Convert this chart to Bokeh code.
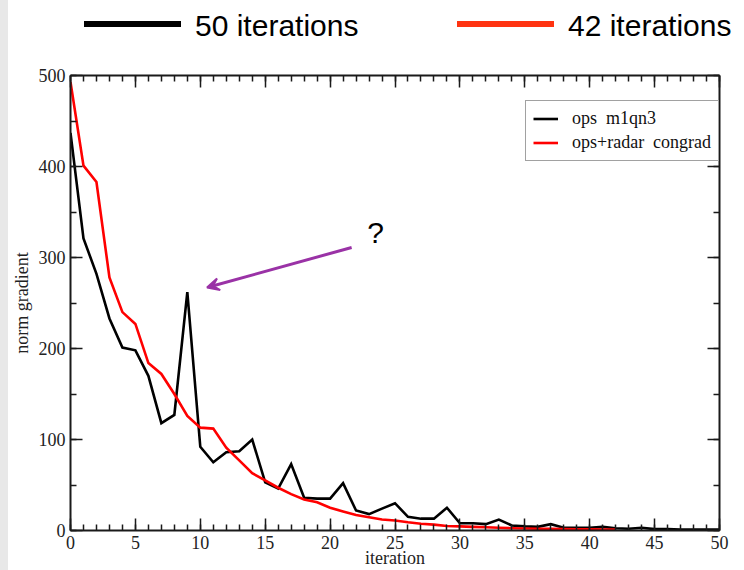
from bokeh.plotting import figure
from bokeh.models import (Range1d, LinearAxis, SingleIntervalTicker, Legend, LegendItem,
                          Arrow, VeeHead, Label, Spacer, Div)
from bokeh.layouts import row, column
from bokeh.embed import file_html
from bokeh.resources import INLINE

# ---------------- data ----------------
iter_m1qn3 = list(range(0, 51))
norm_m1qn3 = [437, 321, 282, 233, 201, 198, 170, 118, 127, 262,
              92, 75, 86, 87, 100, 53, 46, 73, 36, 35,
              35, 52, 22, 18, 24, 30, 15, 13, 13, 25,
              8, 8, 7, 12, 5.5, 4.5, 4, 7, 3, 3,
              3, 4, 2.5, 2, 3, 1.5, 1.5, 1, 1, 1, 1]

iter_congrad = list(range(0, 43))
norm_congrad = [493, 401, 383, 278, 240, 227, 184, 172, 150, 126,
                113, 112, 91, 77, 63, 55, 47, 40, 34, 31,
                25, 21, 17, 14.5, 12, 11, 9, 7.5, 6.5, 5,
                4.5, 4, 3.5, 3, 2.5, 2.2, 2, 1.8, 1.6, 1.4,
                1.2, 1.1, 1]

series_labels = ["ops  m1qn3", "ops+radar  congrad"]
top_labels = ["50 iterations", "42 iterations"]
top_colors = ["#000000", "#ff3311"]
x_label = "iteration"
y_label = "norm gradient"

SERIF = "Liberation Serif"
SANS = "Liberation Sans"
AX = "#1a1a1a"
PURPLE = "#9a32a6"

HEAD_H = 48

# ---------------- header: the big legend ----------------
def head_item(left, color, text):
    return (f'<div style="position:absolute;left:{left}px;top:21px;width:97px;height:6px;'
            f'background:{color};"></div>'
            f'<div style="position:absolute;left:{left + 111}px;top:11px;line-height:30px;'
            f'white-space:nowrap;color:#000;">{text}</div>')

head_html = (f'<div style="position:relative;width:736px;height:{HEAD_H}px;margin:0;padding:0;'
             f'font-family:\'{SANS}\';font-size:30px;background:#ffffff;">'
             + head_item(76, top_colors[0], top_labels[0])
             + head_item(449, top_colors[1], top_labels[1])
             + '</div>')
head = Div(text=head_html, width=736, height=HEAD_H, margin=0,
           styles={"background-color": "white", "margin": "0", "padding": "0"})

# ---------------- main plot ----------------
p = figure(width=736, height=570 - HEAD_H, output_backend="svg", toolbar_location=None,
           x_range=Range1d(0, 50), y_range=Range1d(0, 500),
           min_border_left=60, min_border_right=25, min_border_top=75 - HEAD_H,
           min_border_bottom=40,
           x_axis_label=x_label, y_axis_label=y_label)
p.grid.visible = False
p.outline_line_color = None
p.background_fill_color = "white"
p.border_fill_color = "white"

p.xaxis.ticker = SingleIntervalTicker(interval=5, num_minor_ticks=5)
p.yaxis.ticker = SingleIntervalTicker(interval=100, num_minor_ticks=2)

def style_axis(ax, labels=True):
    ax.axis_line_color = AX
    ax.axis_line_width = 2
    ax.major_tick_in = 12
    ax.major_tick_out = 0
    ax.minor_tick_in = 6
    ax.minor_tick_out = 0
    ax.major_tick_line_color = AX
    ax.minor_tick_line_color = AX
    ax.major_tick_line_width = 1.5
    ax.minor_tick_line_width = 1.5
    ax.major_label_text_font = SERIF
    ax.axis_label_text_font = SERIF
    ax.axis_label_text_font_style = "normal"
    ax.axis_label_text_font_size = "18px"
    ax.axis_label_text_color = "#222222"
    if labels:
        ax.major_label_text_font_size = "18px"
        ax.major_label_text_color = "#222222"
    else:
        ax.major_label_text_font_size = "1px"
        ax.major_label_text_color = None
        ax.major_label_standoff = 0

for ax in p.xaxis:
    style_axis(ax)
    ax.major_label_standoff = 5
    ax.axis_label_standoff = -4
for ax in p.yaxis:
    style_axis(ax)
    ax.major_label_standoff = 5
    ax.axis_label_standoff = 4

top_ax = LinearAxis(ticker=SingleIntervalTicker(interval=5, num_minor_ticks=5))
right_ax = LinearAxis(ticker=SingleIntervalTicker(interval=100, num_minor_ticks=2))
style_axis(top_ax, labels=False)
style_axis(right_ax, labels=False)
p.add_layout(top_ax, "above")
p.add_layout(right_ax, "right")

r_black = p.line(iter_m1qn3, norm_m1qn3, line_color="black", line_width=2.6, line_join="miter")
r_red = p.line(iter_congrad, norm_congrad, line_color="#ff0000", line_width=2.6, line_join="miter")

leg = Legend(items=[LegendItem(label=series_labels[0], renderers=[r_black]),
                    LegendItem(label=series_labels[1], renderers=[r_red])],
             location=(455, 369), padding=7, margin=0, spacing=3,
             glyph_width=25, glyph_height=19, label_height=19, label_standoff=14,
             label_text_font=SERIF, label_text_font_size="18px", label_text_color="#111111",
             border_line_color="#444444", border_line_width=1,
             background_fill_color="white", background_fill_alpha=1)
p.add_layout(leg)

p.add_layout(Arrow(end=VeeHead(size=12, fill_color=PURPLE, line_color=PURPLE, line_width=2),
                   x_start=21.66, y_start=311, x_end=10.52, y_end=267,
                   line_color=PURPLE, line_width=3))
p.add_layout(Label(x=23.5, y=327.5, text="?", text_font=SANS, text_font_size="30px",
                   text_align="center", text_baseline="middle", text_color="black"))

strip = Spacer(width=8, height=570, styles={"background-color": "#e8e8e8"})
layout = row(strip, column(head, p, spacing=0), spacing=0)

open("out.html", "w").write(file_html(layout, INLINE))
